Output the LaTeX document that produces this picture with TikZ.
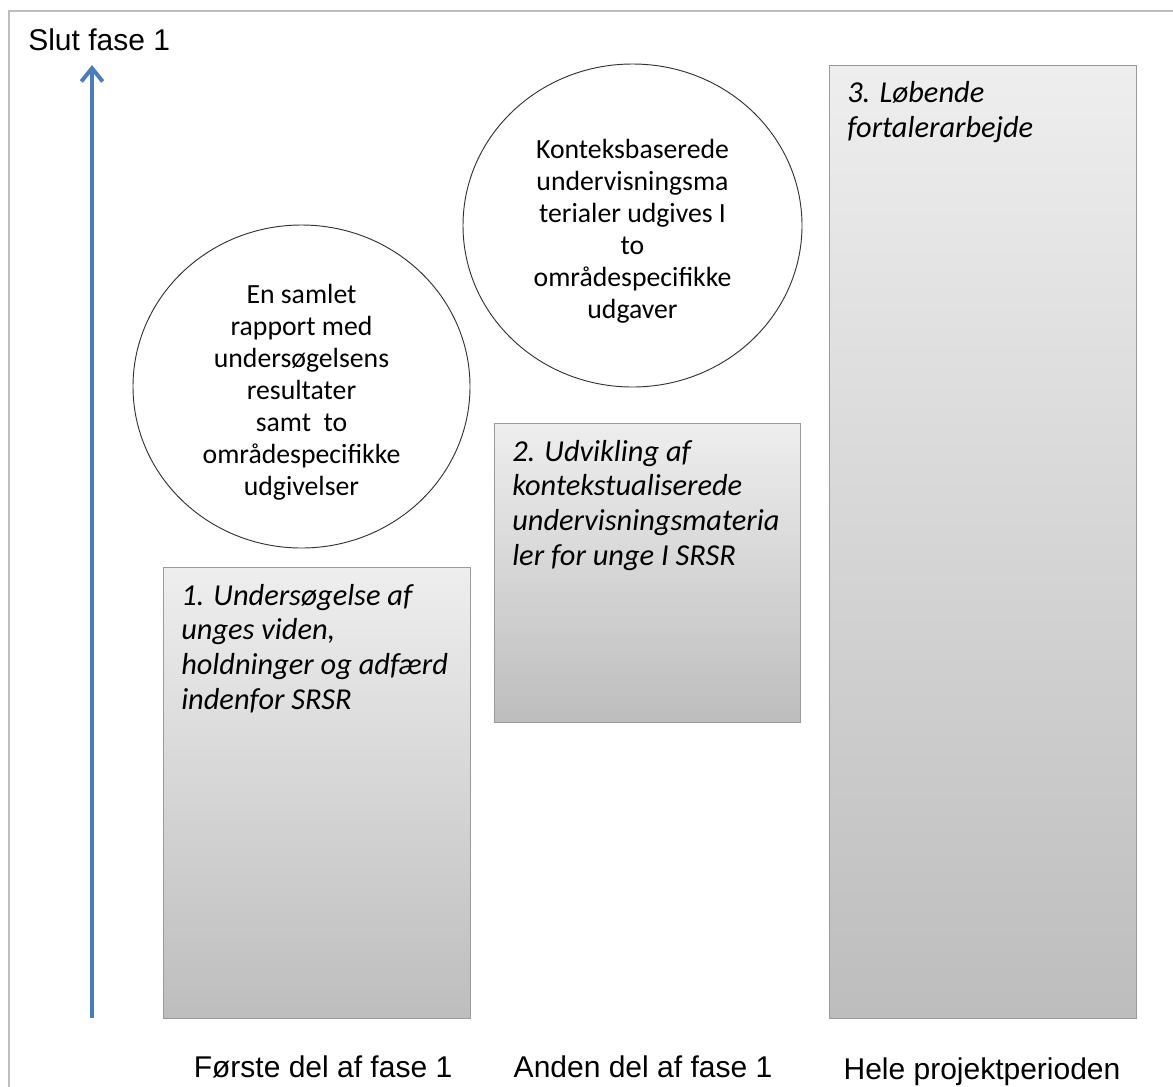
\documentclass[tikz,border=0pt]{standalone}
\usepackage{fontspec}
\setmainfont{Carlito}
\newfontfamily\arialf{Liberation Sans}
\usetikzlibrary{shapes.geometric,arrows.meta}
\definecolor{framegray}{HTML}{BEBEBE}
\definecolor{boxedge}{HTML}{9A9A9A}
\definecolor{boxtop}{HTML}{EEEEEE}
\definecolor{boxbot}{HTML}{BDBDBD}
\definecolor{arrowblue}{HTML}{4A7EBB}
\begin{document}
\begin{tikzpicture}[x=0.75pt,y=-0.75pt,
 taskbox/.style={draw=boxedge, line width=0.9pt, top color=boxtop, bottom color=boxbot, anchor=north west, inner sep=0pt},
 tasktext/.style={anchor=base west, align=left, inner sep=0pt, font=\fontsize{22.8}{25.9}\selectfont\itshape},
 result/.style={draw=black!80, line width=0.7pt, ellipse, inner sep=0pt},
 resulttext/.style={inner sep=0pt, align=center, font=\fontsize{20.8}{24}\selectfont},
 phase/.style={font=\arialf\fontsize{22.5}{27}\selectfont, anchor=base, inner sep=0pt}]
\useasboundingbox (0,0) rectangle (1173,1086);
\fill[white] (0,0) rectangle (1173,1086);
\draw[framegray, line width=1.5pt] (9,11) rectangle (1200,1120);

% timeline arrow
\coordinate (abot) at (92,1018);
\coordinate (atop) at (92,65);
\draw[arrowblue, line width=3pt, -{Straight Barb[length=10pt,width=16pt]}] (abot) -- (atop);
\node[phase, anchor=base west] (slut) at (28,50) {Slut fase 1};

% task boxes
\node[taskbox, minimum width={307*0.75pt}, minimum height={451*0.75pt}] (b1) at (163,567) {};
\node[taskbox, minimum width={306*0.75pt}, minimum height={299*0.75pt}] (b2) at (494,423) {};
\node[taskbox, minimum width={307*0.75pt}, minimum height={953*0.75pt}] (b3) at (829,65) {};

% base anchor = baseline of the last line
\node[tasktext] (t1) at (181,709) {1. Undersøgelse af\\unges viden,\\holdninger og adfærd\\indenfor SRSR};
\node[tasktext] (t2) at (512,565) {2. Udvikling af\\kontekstualiserede\\undervisningsmateria\\ler for unge I SRSR};
\node[tasktext] (t3) at (847,137) {3. Løbende\\fortalerarbejde};

% results
\node[result, minimum width={337*0.75pt}, minimum height={323*0.75pt}] (r1) at (301.5,386.5) {};
\node[resulttext] (r1t) at (301.5,392.5)
  {En samlet\\rapport med\\undersøgelsens\\resultater\\samt\ \ to\\områdespecifikke\\udgivelser};
\node[result, minimum width={339*0.75pt}, minimum height={323*0.75pt}] (r2) at (632.5,225.5) {};
\node[resulttext] (r2t) at (632.5,231.5)
  {Konteksbaserede\\undervisningsma\\terialer udgives I\\to\\områdespecifikke\\udgaver};

% phase labels
\node[phase] (p1) at (323,1077) {Første del af fase 1};
\node[phase] (p2) at (643,1077) {Anden del af fase 1};
\node[phase] (p3) at (982,1079) {Hele projektperioden};
\end{tikzpicture}
\end{document}
